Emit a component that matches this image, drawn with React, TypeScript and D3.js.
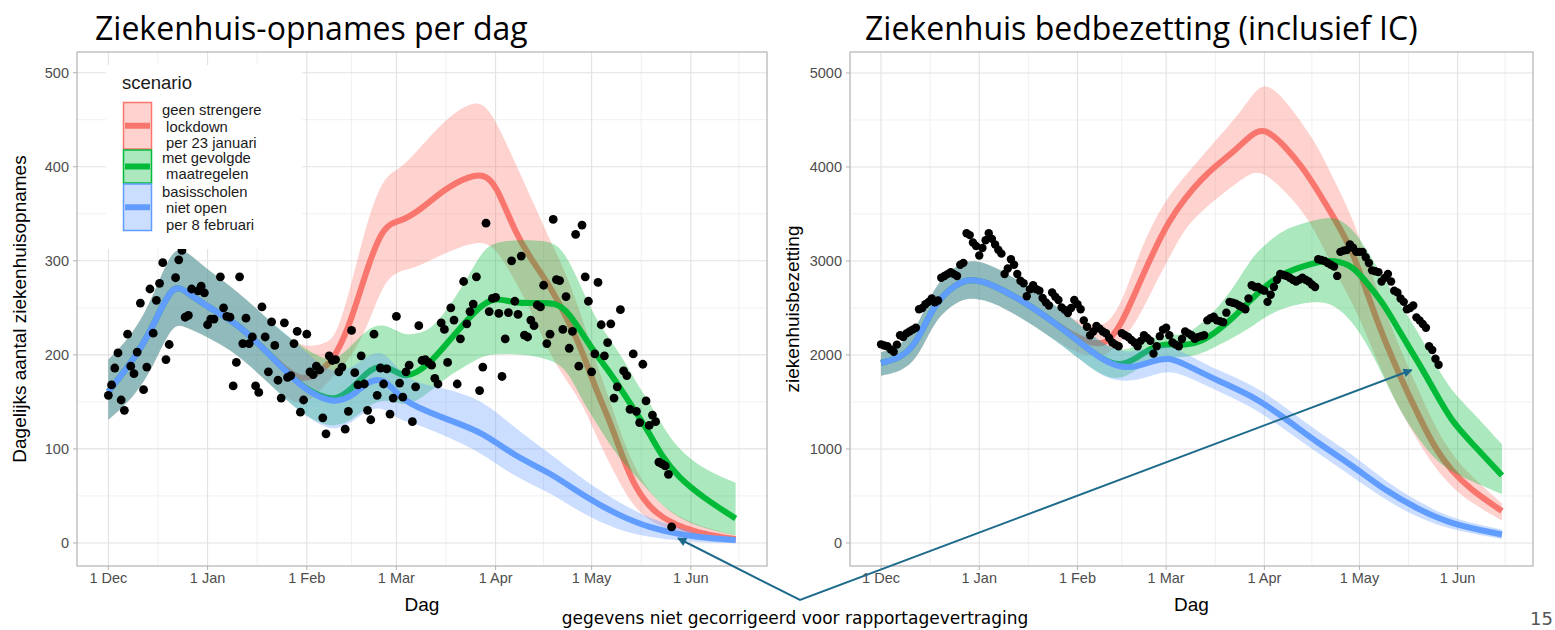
import { useEffect, useRef } from "react"
import * as d3 from "d3"

// x values are days since 1 Dec 2020
const START = Date.UTC(2020, 11, 1)
const DAY_MS = 86400000
const dayToDate = (d: number) => new Date(START + d * DAY_MS)

// [day, lower, median, upper]
type Row = [number, number, number, number]

// ---- Ziekenhuis-opnames per dag ----
const admissionsCommon: Row[] = [
  [0, 131, 161, 195],
  [8, 155, 195, 223],
  [14, 187, 230, 262],
  [20, 234, 276, 314],
  [24, 230, 268, 312],
  [31, 219, 251, 290],
  [40, 202, 234, 269],
  [50, 170, 202, 237],
]

const admissionsRed: Row[] = [
  ...admissionsCommon,
  [60, 140, 168, 206],
  [67, 165, 184, 212],
  [71, 180, 198, 216],
  [76, 198, 237, 276],
  [81, 230, 294, 344],
  [86, 278, 338, 390],
  [91, 290, 342, 397],
  [96, 292, 350, 415],
  [106, 310, 379, 453],
  [113, 318, 390, 468],
  [117, 320, 392, 468],
  [121, 314, 383, 450],
  [127, 280, 330, 405],
  [133, 240, 297, 360],
  [138, 200, 273, 322],
  [143, 173, 241, 287],
  [148, 149, 205, 240],
  [152, 117, 166, 196],
  [157, 82, 127, 148],
  [161, 56, 88, 108],
  [165, 35, 56, 76],
  [171, 19, 30, 44],
  [180, 9, 15, 24],
  [188, 4, 8, 15],
  [196, 0, 4, 8],
]

const admissionsGreen: Row[] = [
  ...admissionsCommon,
  [60, 138, 166, 209],
  [67, 126, 155, 196],
  [71, 124, 152, 194],
  [76, 130, 163, 210],
  [81, 145, 183, 228],
  [86, 154, 191, 234],
  [92, 146, 176, 221],
  [96, 150, 180, 222],
  [101, 162, 193, 227],
  [106, 177, 213, 249],
  [112, 189, 237, 280],
  [117, 199, 254, 312],
  [121, 201, 261, 320],
  [127, 201, 255, 322],
  [133, 199, 255, 322],
  [140, 193, 256, 320],
  [144, 180, 244, 300],
  [148, 152, 223, 270],
  [152, 130, 202, 240],
  [157, 103, 180, 215],
  [161, 85, 159, 195],
  [165, 70, 138, 170],
  [169, 55, 117, 150],
  [173, 40, 92, 125],
  [178, 27, 70, 100],
  [186, 15, 48, 78],
  [196, 8, 26, 64],
]

const admissionsBlue: Row[] = [
  ...admissionsCommon,
  [60, 138, 166, 209],
  [67, 124, 153, 187],
  [71, 120, 150, 182],
  [76, 128, 155, 185],
  [81, 142, 172, 200],
  [86, 145, 176, 205],
  [91, 130, 155, 182],
  [96, 127, 145, 170],
  [106, 113, 131, 164],
  [117, 95, 118, 152],
  [127, 70, 92, 122],
  [138, 54, 75, 95],
  [148, 31, 51, 68],
  [159, 14, 30, 44],
  [169, 6, 16, 26],
  [180, 2, 8, 14],
  [188, 0, 5, 7],
  [196, 0, 3, 5],
]

// daily observed admissions from 1 Dec (null = not readable)
const admissionsObserved: (number | null)[] = [
  157, 168, 186, 202, 152, 141, 222, 188, 180, 203,
  255, 163, 187, 270, 223, 258, 276, 298, 195, 211,
  null, 282, 301, 311, 240, 242, 270, null, 268, 273,
  266, 232, 238, 238, null, 283, 250, 241, 240, 167,
  192, 283, 212, 239, 212, 219, 167, 160, 251, 219,
  182, 235, 210, 173, 154, 234, 176, 178, 212, 225,
  139, 152, 222, 182, 179, 188, 184, 133, 116, 199,
  194, 195, 182, 187, 121, 140, 226, 181, 168, 199,
  169, 141, 131, 222, 157, 186, 169, 185, 137, 154,
  241, 170, 155, 182, 189, 129, 166, 231, 194, 195,
  192, 189, 175, 169, 234, 227, 192, 250, 237, 169,
  217, 278, 233, 246, 254, 283, 162, 187, 340, 246,
  260, 261, 244, 177, 217, 245, 300, 257, 243, 305,
  221, 219, 237, 231, 253, 251, 274, 212, 222, 344,
  280, 279, 227, 262, 207, 225, 328, 188, 338, 283,
  257, 182, 201, 277, 232, 199, 213, 233, 154, 166,
  248, 183, 178, 142, 201, 140, 128, 190, 151, 125,
  136, 129, 86, 84, 82, 73, 17,
]

// ---- Ziekenhuis bedbezetting ----
const occupancyCommon: Row[] = [
  [0, 1780, 1915, 2030],
  [7, 1830, 1974, 2110],
  [12, 1990, 2170, 2330],
  [17, 2380, 2565, 2750],
  [24, 2570, 2763, 2960],
  [28, 2606, 2805, 3005],
  [32, 2590, 2785, 2990],
  [38, 2520, 2703, 2900],
  [49, 2300, 2486, 2680],
]

const occupancyRed: Row[] = [
  ...occupancyCommon,
  [60, 2040, 2211, 2370],
  [66, 1990, 2132, 2330],
  [71, 1979, 2100, 2300],
  [76, 2150, 2330, 2550],
  [81, 2370, 2723, 3040],
  [86, 2720, 3100, 3420],
  [91, 3040, 3432, 3700],
  [96, 3353, 3670, 3904],
  [101, 3520, 3866, 4100],
  [106, 3670, 4023, 4298],
  [112, 3820, 4181, 4520],
  [117, 3947, 4350, 4760],
  [121, 3940, 4420, 4910],
  [127, 3760, 4240, 4740],
  [133, 3540, 4000, 4460],
  [138, 3260, 3740, 4210],
  [143, 2900, 3460, 3860],
  [149, 2550, 3100, 3450],
  [154, 2150, 2600, 2950],
  [159, 1750, 2150, 2480],
  [164, 1400, 1760, 2050],
  [170, 1050, 1330, 1600],
  [175, 790, 1000, 1230],
  [180, 600, 770, 950],
  [186, 430, 570, 720],
  [196, 240, 340, 420],
]

const occupancyGreen: Row[] = [
  ...occupancyCommon,
  [60, 2030, 2211, 2400],
  [70, 1760, 1936, 2110],
  [76, 1740, 1880, 2030],
  [81, 1850, 1974, 2110],
  [86, 1960, 2093, 2190],
  [91, 1974, 2120, 2220],
  [96, 1974, 2100, 2210],
  [101, 2010, 2140, 2330],
  [106, 2093, 2250, 2486],
  [112, 2200, 2420, 2750],
  [117, 2300, 2600, 3040],
  [122, 2420, 2750, 3200],
  [127, 2500, 2870, 3330],
  [133, 2550, 2940, 3400],
  [138, 2567, 2990, 3440],
  [143, 2540, 3010, 3480],
  [149, 2350, 2950, 3350],
  [154, 2080, 2740, 3080],
  [159, 1740, 2530, 2800],
  [164, 1390, 2230, 2530],
  [170, 1090, 1900, 2220],
  [175, 880, 1600, 1900],
  [180, 760, 1300, 1620],
  [186, 660, 1080, 1420],
  [196, 520, 718, 1050],
]

const occupancyBlue: Row[] = [
  ...occupancyCommon,
  [60, 2030, 2211, 2400],
  [70, 1760, 1936, 2110],
  [76, 1720, 1864, 2030],
  [81, 1730, 1876, 2040],
  [86, 1790, 1940, 2090],
  [91, 1830, 1974, 2100],
  [96, 1780, 1900, 2020],
  [106, 1620, 1730, 1840],
  [117, 1450, 1570, 1690],
  [127, 1220, 1340, 1460],
  [138, 950, 1060, 1180],
  [149, 700, 820, 940],
  [159, 460, 560, 660],
  [170, 260, 350, 430],
  [180, 140, 200, 260],
  [196, 43, 90, 142],
]

const occupancyObserved: (number | null)[] = [
  2113, 2100, 2093, 2060, 2033, 2110, 2210, 2190, 2230, 2250,
  2270, 2290, 2486, 2500, 2540, 2565, 2600, 2560, 2580, 2821,
  2840, 2860, 2881, 2860, 2840, 2960, 2980, 3295, 3275, 3196,
  3160, 3058, 3138, 3220, 3295, 3235, 3176, 3120, 3078, 2862,
  2920, 3018, 2960, 2862, 2790, 2763, 2624, 2700, 2742, 2700,
  2684, 2606, 2560, 2526, 2664, 2620, 2585, 2506, 2480, 2447,
  2500, 2585, 2540, 2486, 2368, 2300, 2210, 2250, 2309, 2280,
  2250, 2231, 2180, 2132, 2110, 2093, 2231, 2210, 2191, 2160,
  2132, 2093, 2150, 2211, 2180, 2152, 2014, 2093, 2200, 2270,
  2290, 2210, 2132, 2110, 2093, 2170, 2250, 2230, 2210, 2171,
  2190, 2200, 2210, 2368, 2390, 2407, 2368, 2360, 2349, 2450,
  2565, 2555, 2546, 2526, 2510, 2486, 2600, 2742, 2723, 2723,
  2700, 2684, 2565, 2640, 2723, 2800, 2862, 2850, 2841, 2821,
  2800, 2782, 2800, 2821, 2800, 2782, 2750, 2723, 3018, 3010,
  2999, 2979, 2960, 2940, 2841, 3097, 3110, 3117, 3176, 3140,
  3097, 3097, 3097, 3040, 2979, 2900, 2890, 2881, 2782, 2820,
  2862, 2782, 2684, 2664, 2600, 2565, 2486, 2500, 2526, 2400,
  2368, 2329, 2290, 2093, 2053, 1960, 1896,
]

const admissionsTicks = [0, 100, 200, 300, 400, 500]
const occupancyTicks = [0, 1000, 2000, 3000, 4000, 5000]

const scenarioColors = ["#F8766D", "#00BA38", "#619CFF"]
const scenarioLabels = [
  ["geen strengere", " lockdown", " per 23 januari"],
  ["met gevolgde", " maatregelen"],
  ["basisscholen", " niet open", " per 8 februari"],
]

// annotation arrow targets, in data units [day, value]
const arrowLeftTarget = [178, 5]
const arrowRightTarget = [167.5, 1840]

const FONT = "'Liberation Sans', Arial, sans-serif"
const smooth = d3.curveBasis

interface PanelSpec {
  left: number
  right: number
  top: number
  bottom: number
  yDomain: [number, number]
  yTicks: number[]
  curves: Row[][]
  observed: (number | null)[]
  pointRadius: number
  yTitle: string
  title: string
  titleX: number
}

function drawPanel(svg: d3.Selection<SVGSVGElement, unknown, null, undefined>, p: PanelSpec) {
  const x = d3
    .scaleUtc()
    .domain([dayToDate(-9.8), dayToDate(205.8)])
    .range([p.left, p.right])
  const y = d3.scaleLinear().domain(p.yDomain).range([p.bottom, p.top])

  const g = svg.append("g")

  g.append("rect")
    .attr("x", p.left)
    .attr("y", p.top)
    .attr("width", p.right - p.left)
    .attr("height", p.bottom - p.top)
    .attr("fill", "#fff")

  // grid
  const majorX = d3.utcMonth.range(dayToDate(0), dayToDate(183))
  const allMonths = d3.utcMonth.range(new Date(Date.UTC(2020, 10, 1)), new Date(Date.UTC(2021, 6, 2)))
  const [dMin, dMax] = x.domain()
  const minorX = d3
    .pairs(allMonths)
    .map(([a, b]) => new Date((a.getTime() + b.getTime()) / 2))
    .filter((d) => d >= dMin && d <= dMax)
  const minorY = d3.pairs(p.yTicks).map(([a, b]) => (a + b) / 2)

  g.selectAll(".minor-x")
    .data(minorX)
    .enter()
    .append("line")
    .attr("x1", (d) => x(d))
    .attr("x2", (d) => x(d))
    .attr("y1", p.top)
    .attr("y2", p.bottom)
    .attr("stroke", "#f0f0f0")
    .attr("stroke-width", 1)
  g.selectAll(".minor-y")
    .data(minorY)
    .enter()
    .append("line")
    .attr("x1", p.left)
    .attr("x2", p.right)
    .attr("y1", (d) => y(d))
    .attr("y2", (d) => y(d))
    .attr("stroke", "#f0f0f0")
    .attr("stroke-width", 1)
  g.selectAll(".major-x")
    .data(majorX)
    .enter()
    .append("line")
    .attr("x1", (d) => x(d))
    .attr("x2", (d) => x(d))
    .attr("y1", p.top)
    .attr("y2", p.bottom)
    .attr("stroke", "#e2e2e2")
    .attr("stroke-width", 1.1)
  g.selectAll(".major-y")
    .data(p.yTicks)
    .enter()
    .append("line")
    .attr("x1", p.left)
    .attr("x2", p.right)
    .attr("y1", (d) => y(d))
    .attr("y2", (d) => y(d))
    .attr("stroke", "#e2e2e2")
    .attr("stroke-width", 1.1)

  // scenario ribbons and lines, group by group
  p.curves.forEach((rows, i) => {
    const area = d3
      .area<Row>()
      .x((d) => x(dayToDate(d[0])))
      .y0((d) => y(d[1]))
      .y1((d) => y(d[3]))
      .curve(smooth)
    const line = d3
      .line<Row>()
      .x((d) => x(dayToDate(d[0])))
      .y((d) => y(d[2]))
      .curve(smooth)
    g.append("path").attr("d", area(rows)).attr("fill", scenarioColors[i]).attr("fill-opacity", 0.33)
    g.append("path")
      .attr("d", line(rows))
      .attr("fill", "none")
      .attr("stroke", scenarioColors[i])
      .attr("stroke-width", 6)
  })

  // observed data
  const pts = p.observed
    .map((v, i) => ({ day: i, v }))
    .filter((d): d is { day: number; v: number } => d.v !== null)
  g.selectAll(".obs")
    .data(pts)
    .enter()
    .append("circle")
    .attr("cx", (d) => x(dayToDate(d.day)))
    .attr("cy", (d) => y(d.v))
    .attr("r", p.pointRadius)
    .attr("fill", "#000")

  // border
  g.append("rect")
    .attr("x", p.left)
    .attr("y", p.top)
    .attr("width", p.right - p.left)
    .attr("height", p.bottom - p.top)
    .attr("fill", "none")
    .attr("stroke", "#b3b3b3")
    .attr("stroke-width", 1.2)

  // y axis
  g.selectAll(".ytick")
    .data(p.yTicks)
    .enter()
    .append("line")
    .attr("x1", p.left - 4)
    .attr("x2", p.left)
    .attr("y1", (d) => y(d))
    .attr("y2", (d) => y(d))
    .attr("stroke", "#b3b3b3")
  g.selectAll(".ylab")
    .data(p.yTicks)
    .enter()
    .append("text")
    .attr("x", p.left - 8)
    .attr("y", (d) => y(d))
    .attr("dy", "0.35em")
    .attr("text-anchor", "end")
    .attr("font-family", FONT)
    .attr("font-size", 14.5)
    .attr("fill", "#4d4d4d")
    .text((d) => String(d))

  // x axis
  const fmt = d3.utcFormat("%-d %b")
  g.selectAll(".xtick")
    .data(majorX)
    .enter()
    .append("line")
    .attr("x1", (d) => x(d))
    .attr("x2", (d) => x(d))
    .attr("y1", p.bottom)
    .attr("y2", p.bottom + 4)
    .attr("stroke", "#b3b3b3")
  g.selectAll(".xlab")
    .data(majorX)
    .enter()
    .append("text")
    .attr("x", (d) => x(d))
    .attr("y", p.bottom + 17)
    .attr("text-anchor", "middle")
    .attr("font-family", FONT)
    .attr("font-size", 14.5)
    .attr("fill", "#4d4d4d")
    .text((d) => fmt(d))

  g.append("text")
    .attr("x", (p.left + p.right) / 2)
    .attr("y", p.bottom + 45)
    .attr("text-anchor", "middle")
    .attr("font-family", FONT)
    .attr("font-size", 19)
    .attr("fill", "#000")
    .text("Dag")

  const ty = (p.top + p.bottom) / 2
  const tx = p.left - 51
  g.append("text")
    .attr("transform", `translate(${tx}, ${ty}) rotate(-90)`)
    .attr("text-anchor", "middle")
    .attr("font-family", FONT)
    .attr("font-size", 19)
    .attr("fill", "#000")
    .text(p.yTitle)

  g.append("text")
    .attr("x", p.titleX)
    .attr("y", 40)
    .attr("font-family", "'Open Sans', sans-serif")
    .attr("font-size", 32)
    .attr("fill", "#000")
    .text(p.title)

  return { x, y }
}

function drawLegend(svg: d3.Selection<SVGSVGElement, unknown, null, undefined>) {
  const lg = svg.append("g").attr("transform", "translate(106, 65)")
  lg.append("rect").attr("width", 196).attr("height", 184).attr("fill", "#fff")
  lg.append("text")
    .attr("x", 16)
    .attr("y", 24)
    .attr("font-family", FONT)
    .attr("font-size", 18.5)
    .attr("fill", "#1a1a1a")
    .text("scenario")

  const lineH = 16.5
  let top = 37
  scenarioLabels.forEach((lines, i) => {
    const h = lines.length * lineH + (lines.length === 2 ? 1 : -2)
    lg.append("rect")
      .attr("x", 17.5)
      .attr("y", top + 0.5)
      .attr("width", 28)
      .attr("height", h - 1)
      .attr("fill", scenarioColors[i])
      .attr("fill-opacity", 0.33)
      .attr("stroke", scenarioColors[i])
      .attr("stroke-width", 1.5)
    lg.append("line")
      .attr("x1", 19)
      .attr("x2", 44)
      .attr("y1", top + h / 2)
      .attr("y2", top + h / 2)
      .attr("stroke", scenarioColors[i])
      .attr("stroke-width", 6)
    lines.forEach((t, j) => {
      lg.append("text")
        .attr("x", 56)
        .attr("y", top + 8 + j * lineH)
        .attr("dy", "0.35em")
        .attr("font-family", FONT)
        .attr("font-size", 14.8)
        .attr("fill", "#1a1a1a")
        .style("white-space", "pre")
        .text(t)
    })
    top += h
  })
}

export default function App() {
  const svgRef = useRef<SVGSVGElement>(null)

  useEffect(() => {
    if (!svgRef.current) return
    const svg = d3.select(svgRef.current)
    svg.selectAll("*").remove()

    svg.append("rect").attr("width", 1555).attr("height", 630).attr("fill", "#fff")

    const left = drawPanel(svg, {
      left: 77,
      right: 767,
      top: 52,
      bottom: 566,
      yDomain: [-24.5, 522],
      yTicks: admissionsTicks,
      curves: [admissionsRed, admissionsGreen, admissionsBlue],
      observed: admissionsObserved,
      pointRadius: 4.4,
      yTitle: "Dagelijks aantal ziekenhuisopnames",
      title: "Ziekenhuis-opnames per dag",
      titleX: 95,
    })
    drawLegend(svg)

    const right = drawPanel(svg, {
      left: 850,
      right: 1533,
      top: 52,
      bottom: 566,
      yDomain: [-245, 5223],
      yTicks: occupancyTicks,
      curves: [occupancyRed, occupancyGreen, occupancyBlue],
      observed: occupancyObserved,
      pointRadius: 4.2,
      yTitle: "ziekenhuisbezetting",
      title: "Ziekenhuis bedbezetting (inclusief IC)",
      titleX: 865,
    })

    // annotation
    const arrowColor = "#1d6a8c"
    const defs = svg.append("defs")
    defs
      .append("marker")
      .attr("id", "arrowhead")
      .attr("viewBox", "0 0 10 10")
      .attr("refX", 9)
      .attr("refY", 5)
      .attr("markerWidth", 11)
      .attr("markerHeight", 9)
      .attr("markerUnits", "userSpaceOnUse")
      .attr("orient", "auto-start-reverse")
      .append("path")
      .attr("d", "M0,0 L10,5 L0,10 z")
      .attr("fill", arrowColor)

    const lt: [number, number] = [left.x(dayToDate(arrowLeftTarget[0])), left.y(arrowLeftTarget[1])]
    const rt: [number, number] = [right.x(dayToDate(arrowRightTarget[0])), right.y(arrowRightTarget[1])]
    const vertex: [number, number] = [800, 600]
    svg
      .append("path")
      .attr("d", d3.line()([lt, vertex, rt]))
      .attr("fill", "none")
      .attr("stroke", arrowColor)
      .attr("stroke-width", 2)
      .attr("marker-start", "url(#arrowhead)")
      .attr("marker-end", "url(#arrowhead)")

    svg
      .append("text")
      .attr("x", 795)
      .attr("y", 624)
      .attr("text-anchor", "middle")
      .attr("font-family", "'DejaVu Sans', sans-serif")
      .attr("font-size", 17)
      .attr("fill", "#000")
      .text("gegevens niet gecorrigeerd voor rapportagevertraging")

    svg
      .append("text")
      .attr("x", 1530)
      .attr("y", 625)
      .attr("font-family", "'DejaVu Sans', sans-serif")
      .attr("font-size", 18)
      .attr("fill", "#555")
      .text("15")
  }, [])

  return (
    <div style={{ position: "absolute", left: 0, top: 0 }}>
      <svg ref={svgRef} width={1555} height={630} />
    </div>
  )
}
